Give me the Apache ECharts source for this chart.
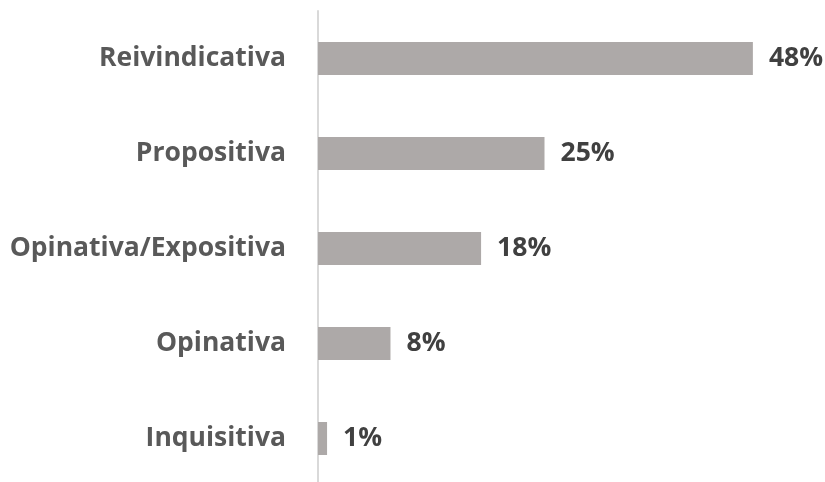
<!DOCTYPE html>
<html>
<head>
<meta charset="utf-8">
<script src="https://cdn.jsdelivr.net/npm/echarts@6/dist/echarts.min.js"></script>
<style>
  html, body { margin: 0; padding: 0; background: #ffffff; }
  #chart { width: 825px; height: 482px; }
</style>
</head>
<body>
<div id="chart"></div>
<script>
// Categories listed bottom to top (category axis runs upward)
const categories = ['Inquisitiva', 'Opinativa', 'Opinativa/Expositiva', 'Propositiva', 'Reivindicativa'];
const shares = [1, 8, 18, 25, 48];

const labelFont = "'Open Sans', sans-serif";

const chart = echarts.init(document.getElementById('chart'), null, { renderer: 'canvas' });

chart.setOption({
  animation: false,
  grid: {
    left: 318, top: 11, width: 453, height: 475,
    containLabel: false,
    outerBoundsMode: 'none'
  },
  xAxis: {
    type: 'value',
    min: 0,
    max: 50,
    show: false
  },
  yAxis: {
    type: 'category',
    data: categories,
    axisLine: { show: true, lineStyle: { color: '#d9d9d9', width: 2 } },
    axisTick: { show: false },
    axisLabel: {
      margin: 32,
      color: '#595959',
      fontFamily: labelFont,
      fontWeight: 'bold',
      fontSize: 26.5
    }
  },
  series: [{
    type: 'bar',
    data: shares,
    barWidth: 33,
    itemStyle: { color: '#ada9a8' },
    label: {
      show: true,
      position: 'right',
      distance: 16,
      formatter: p => p.value + '%',
      color: '#404040',
      fontFamily: labelFont,
      fontWeight: 'bold',
      fontSize: 26.5
    }
  }]
});
</script>
</body>
</html>
